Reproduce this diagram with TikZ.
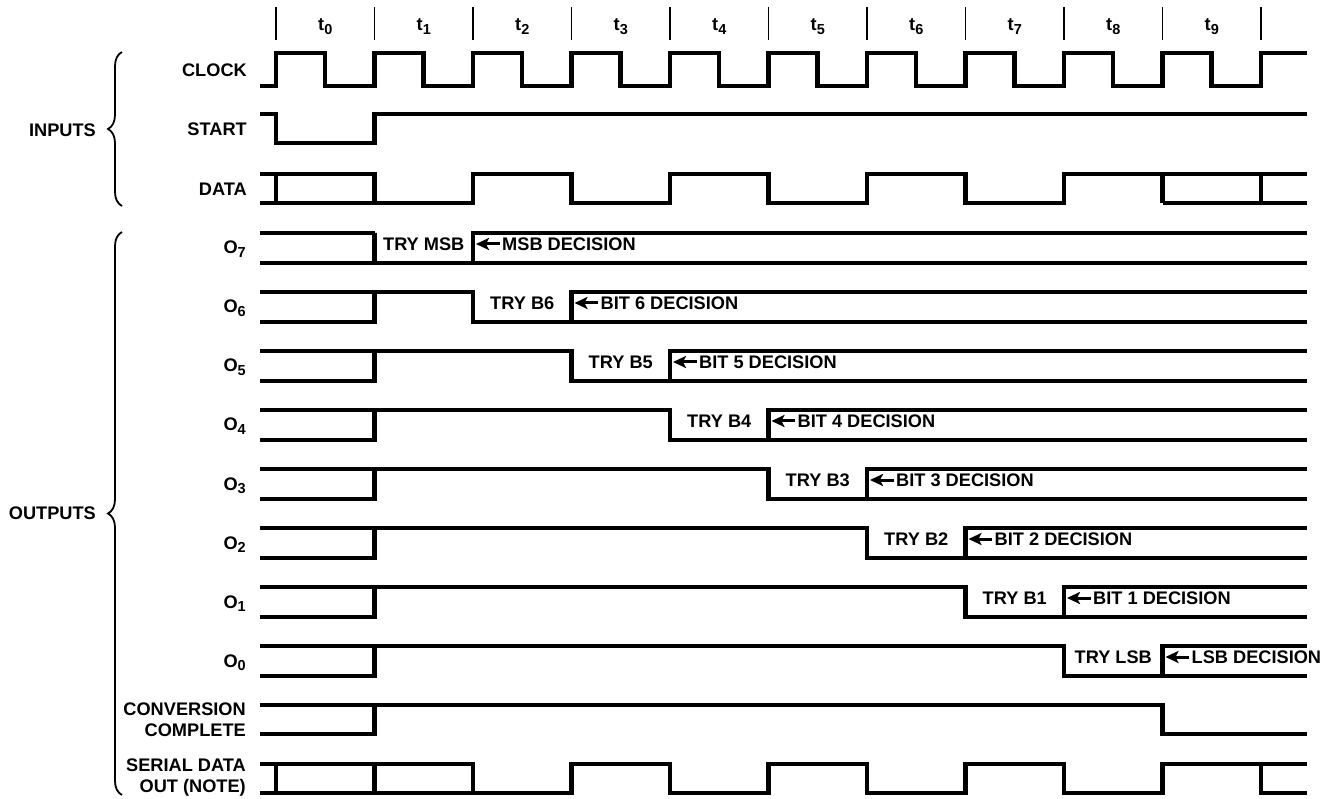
\documentclass[tikz,border=0pt]{standalone}
\usepackage{fontspec}
\setmainfont{Liberation Sans}
\usetikzlibrary{arrows.meta, decorations.pathreplacing}
\newcommand{\idx}[1]{\raisebox{-3.5pt}{\fontsize{14.5}{14.5}\selectfont #1}}
\def\tstep{98.5}
\def\tzero{276}

\begin{document}
\begin{tikzpicture}[x=1pt, y=-1pt,
    wave/.style={line width=4.8pt, line join=miter},
    tick/.style={line width=1.6pt},
    lbl/.style={font=\fontsize{18.2}{20.5}\selectfont\bfseries, inner sep=0pt},
    rowlbl/.style={lbl, anchor=base east, align=right},
    trylbl/.style={lbl, anchor=center},
    declbl/.style={lbl, anchor=west},
    decarrow/.style={-{Stealth[length=13pt, width=12pt, inset=3pt]}, line width=3pt, shorten <=2.5pt},
    grp/.style={decorate, decoration={brace, amplitude=14pt}, line width=1.8pt}
  ]
  \useasboundingbox (0,0) rectangle (1323,799);

  % clock periods
  \foreach \k in {0,...,10} {
    \coordinate (t\k) at ({\tzero+\tstep*\k},0);
    \draw[tick] (t\k |- 0,7) -- (t\k |- 0,40);
  }
  \foreach \k in {0,...,9}
    \node[lbl, anchor=base] (slot\k) at ({\tzero+\tstep*(\k+0.5)},31) {t\idx{\k}};

  % inputs
  \node[rowlbl] (clk) at (247,77) {CLOCK};
  \node[rowlbl] (start) at (247,136) {START};
  \node[rowlbl] (data) at (247,196) {DATA};
  \draw[wave] (260,86) \foreach \k in {0,...,9} {
      -- (t\k |- 0,86) -- (t\k |- 0,53) -- ({\tzero+\tstep*\k+49},53) -- ({\tzero+\tstep*\k+49},86)}
    -- (t10 |- 0,86) -- (t10 |- 0,53) -- (1307,53);
  \draw[wave] (260,114) -- (t0 |- 0,114) -- (t0 |- 0,143) -- (t1 |- 0,143) -- (t1 |- 0,114) -- (1307,114);
  \draw[wave] (260,174) -- (t1 |- 0,174) -- (t1 |- 0,203) (t0 |- 0,174) -- (t0 |- 0,203);
  \draw[wave] (260,203) -- (t2 |- 0,203) -- (t2 |- 0,174) -- (t3 |- 0,174) -- (t3 |- 0,203)
    -- (t4 |- 0,203) -- (t4 |- 0,174) -- (t5 |- 0,174) -- (t5 |- 0,203) -- (t6 |- 0,203)
    -- (t6 |- 0,174) -- (t7 |- 0,174) -- (t7 |- 0,203) -- (t8 |- 0,203) -- (t8 |- 0,174) -- (1307,174);
  \draw[wave] (t9 |- 0,203) -- (1307,203) (t9 |- 0,174) -- (t9 |- 0,203) (t10 |- 0,174) -- (t10 |- 0,203);

  % successive approximation outputs
  \foreach \k/\i/\try/\dec in {7/0/TRY MSB/MSB DECISION, 6/1/TRY B6/BIT 6 DECISION,
      5/2/TRY B5/BIT 5 DECISION, 4/3/TRY B4/BIT 4 DECISION, 3/4/TRY B3/BIT 3 DECISION,
      2/5/TRY B2/BIT 2 DECISION, 1/6/TRY B1/BIT 1 DECISION, 0/7/TRY LSB/LSB DECISION} {
    \pgfmathsetmacro\hi{233+59*\i}
    \pgfmathsetmacro\lo{\hi+30}
    \pgfmathtruncatemacro\a{\i+1}
    \pgfmathtruncatemacro\b{\i+2}
    \node[rowlbl] (out\k) at (246,{\hi+21}) {O\idx{\k}};
    \draw[wave] (260,\lo) -- (t1 |- 0,\lo) -- (t1 |- 0,\hi) -- (t\a |- 0,\hi) -- (t\a |- 0,\lo)
      -- (t\b |- 0,\lo) -- (t\b |- 0,\hi) -- (1307,\hi);
    \draw[wave] (260,\hi) -- (t1 |- 0,\hi) (t\b |- 0,\lo) -- (1307,\lo);
    \node[trylbl] (try\k) at ({\tzero+\tstep*(\i+1.5)},{\hi+11}) {\try};
    \node[declbl] (dec\k) at ({\tzero+\tstep*\b+29},{\hi+11}) {\dec};
    \coordinate (tip\k) at ({\tzero+\tstep*\b+3},{\hi+11});
    \draw[decarrow] (dec\k.west) -- (tip\k);
  }

  \node[rowlbl] (cc) at (246,736) {CONVERSION\\COMPLETE};
  \draw[wave] (260,734) -- (t1 |- 0,734) -- (t1 |- 0,705);
  \draw[wave] (260,705) -- (t9 |- 0,705) -- (t9 |- 0,734) -- (1307,734);

  \node[rowlbl] (sdo) at (246,792) {SERIAL DATA\\OUT (NOTE)};
  \draw[wave] (260,764) -- (t2 |- 0,764) -- (t2 |- 0,793) (t0 |- 0,764) -- (t0 |- 0,793) (t1 |- 0,764) -- (t1 |- 0,793);
  \draw[wave] (260,793) -- (t3 |- 0,793) -- (t3 |- 0,764) -- (t4 |- 0,764) -- (t4 |- 0,793)
    -- (t5 |- 0,793) -- (t5 |- 0,764) -- (t6 |- 0,764) -- (t6 |- 0,793) -- (t7 |- 0,793)
    -- (t7 |- 0,764) -- (t8 |- 0,764) -- (t8 |- 0,793) -- (t9 |- 0,793) -- (t9 |- 0,764) -- (1307,764);
  \draw[wave] (t10 |- 0,764) -- (t10 |- 0,793) -- (1307,793);

  % groups
  \node[lbl, anchor=east] (inputs) at (96,130) {INPUTS};
  \node[lbl, anchor=east] (outputs) at (96,513) {OUTPUTS};
  \draw[grp] (122,206) -- (122,52);
  \draw[grp] (122,795) -- (122,232);
\end{tikzpicture}
\end{document}
